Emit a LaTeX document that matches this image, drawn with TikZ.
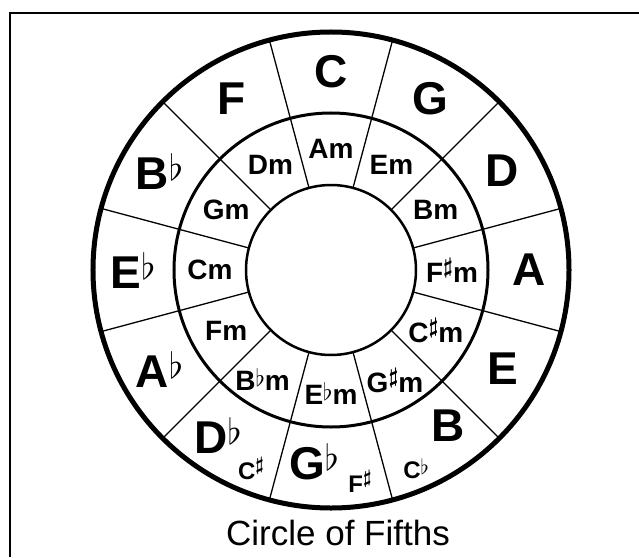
\documentclass[tikz,border=0pt]{standalone}
\usepackage{fontspec}
\setmainfont{Liberation Sans}
\usepackage{bm}
\usetikzlibrary{positioning}
% accidentals, scaled from 10pt math so the size is fixed
\newcommand{\majflat}{\raisebox{9pt}{\scalebox{3.6}{\normalsize$\flat$}}}
\newcommand{\minflat}{\raisebox{4pt}{\scalebox{2.4}{\normalsize$\flat$}}}
\newcommand{\minsharp}{\raisebox{9pt}{\scalebox{2.2}{\normalsize$\bm{\sharp}$}}}
\newcommand{\enhflat}{\raisebox{4pt}{\scalebox{2.1}{\normalsize$\flat$}}}
\newcommand{\enhsharp}{\raisebox{9pt}{\scalebox{1.9}{\normalsize$\bm{\sharp}$}}}
\tikzset{
  majorkey/.style={
    font=\fontsize{46}{46}\selectfont\bfseries,
    inner sep=0pt
  },
  minorkey/.style={
    font=\fontsize{28}{28}\selectfont\bfseries,
    inner sep=0pt
  },
  enharmkey/.style={
    font=\fontsize{24}{24}\selectfont\bfseries,
    inner sep=0pt
  },
  titletext/.style={
    font=\fontsize{35}{35}\selectfont,
    inner sep=0pt
  },
  ringline/.style={
    draw,
    line width=#1
  },
  sectorline/.style={
    line width=1.3pt
  }
}

\begin{document}
\begin{tikzpicture}[x=1pt, y=1pt]
    \useasboundingbox (-331,-287) rectangle (308,270);

    % frame, only top and left edge show
    \coordinate (frametl) at (-321,257);
    \draw[line width=2.5pt] (frametl -| 308,0) -- (frametl) -- (frametl |- 0,-287);

    % sector dividers
    \foreach \ang in {15,45,...,345}
      \draw[sectorline] (\ang:85) -- (\ang:238);

    % rings
    \draw[ringline=5pt] (0,0) circle (238);
    \draw[ringline=3pt] (0,0) circle (157);
    \draw[ringline=2.5pt, fill=white] (0,0) circle (85);

    % major keys
    \foreach \ang/\name/\txt in {90/C/C, 60/G/G, 30/D/D, 0/A/A, -30/E/E,
        -150/Ab/A\majflat, 180/Eb/E\majflat, 150/Bb/B\majflat, 120/F/F}
      \node[majorkey] (maj\name) at (\ang:198) {\txt};
    \node[majorkey] (majB)  at (117,-156) {B};
    \node[majorkey] (majGb) at (-17,-192) {G\majflat};
    \node[majorkey] (majDb) at (-113,-165) {D\majflat};

    % enharmonic spellings
    \node[enharmkey] (enhCb) at (85,-199) {C\enhflat};
    \node[enharmkey] (enhFs) at (29,-211) {F\enhsharp};
    \node[enharmkey] (enhCs) at (-80,-199) {C\enhsharp};

    % minor keys
    \foreach \ang/\name/\txt in {90/Am/Am, 60/Em/Em, 30/Bm/Bm, 0/Fsm/F\minsharp m,
        -30/Csm/C\minsharp m, 180/Cm/Cm, 150/Gm/Gm, 120/Dm/Dm, -150/Fm/Fm}
      \node[minorkey] (min\name) at (\ang:121) {\txt};
    \node[minorkey] (minGsm) at (-60:128) {G\minsharp m};
    \node[minorkey] (minEbm) at (-90:123) {E\minflat m};
    \node[minorkey] (minBbm) at (-122:129) {B\minflat m};

    \node[titletext] (title) at (7,-263) {Circle of Fifths};
\end{tikzpicture}
\end{document}
